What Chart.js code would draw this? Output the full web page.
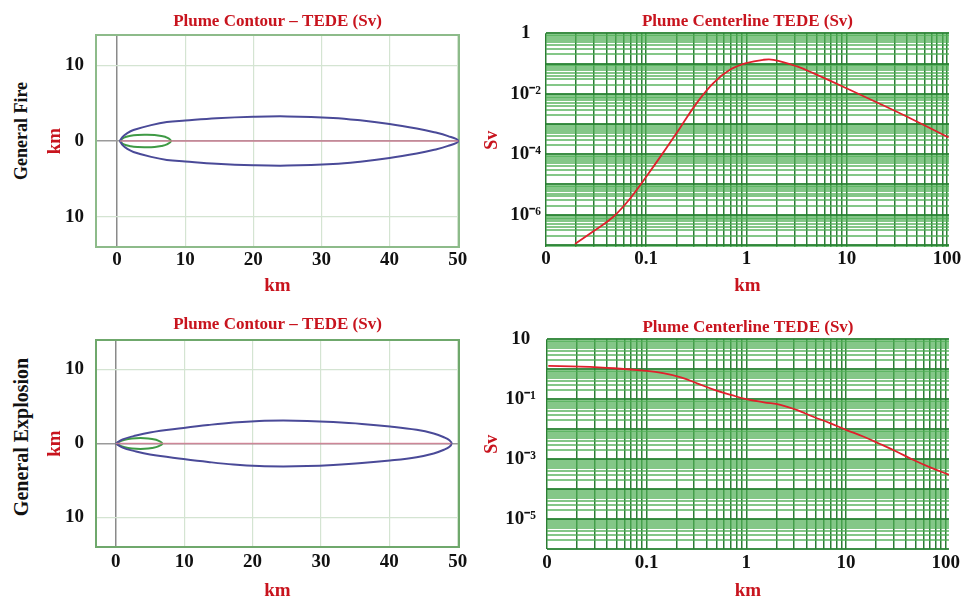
<!DOCTYPE html>
<html>
<head>
<meta charset="utf-8">
<script src="https://cdn.jsdelivr.net/npm/chart.js@4.4.1/dist/chart.umd.min.js"></script>
<style>
    body { margin: 0; background: #fff; width: 963px; height: 602px; position: relative; overflow: hidden; }
    canvas { position: absolute; }
    .rowlabel {
        position: absolute;
        font-family: 'Liberation Serif', serif;
        font-weight: bold;
        color: #111;
        white-space: nowrap;
        transform: translate(-50%, -50%) rotate(-90deg);
    }
</style>
</head>
<body>
<div class="rowlabel" style="left:21px; top:131px; font-size:18px;">General Fire</div>
<div class="rowlabel" style="left:21px; top:437px; font-size:20px;">General Explosion</div>
<canvas id="fireContour" width="480" height="300" style="left:0; top:0;"></canvas>
<canvas id="fireLine" width="483" height="300" style="left:480px; top:0;"></canvas>
<canvas id="explContour" width="480" height="302" style="left:0; top:300px;"></canvas>
<canvas id="explLine" width="483" height="302" style="left:480px; top:300px;"></canvas>
<script>
// contour outlines: distance downwind (km) and half width (km)
const fireOuterX = [0.4, 0.8, 1.5, 2.4, 5, 7.3, 10, 14.6, 20, 25, 31.7, 36, 40, 44, 46.4, 48.6, 50.1];
const fireOuterW = [0, 0.55, 1.05, 1.45, 2.1, 2.5, 2.7, 3.0, 3.2, 3.25, 3.05, 2.7, 2.25, 1.65, 1.2, 0.65, 0];
const fireInnerX = [0.4, 1, 2, 3, 4.3, 5.5, 6.5, 7.3, 7.9];
const fireInnerW = [0, 0.45, 0.7, 0.8, 0.82, 0.78, 0.65, 0.45, 0];

const explOuterX = [0, 1, 2.6, 5, 9.9, 13.5, 17.2, 21, 24.5, 28, 31.8, 36, 40.1, 44, 46.5, 48, 48.8, 49.1];
const explOuterW = [0, 0.55, 1.0, 1.5, 2.1, 2.5, 2.84, 3.05, 3.1, 3.05, 2.9, 2.65, 2.3, 1.85, 1.35, 0.85, 0.45, 0];
const explInnerX = [0, 0.8, 1.8, 3, 4.2, 5.3, 6.2, 6.8];
const explInnerW = [0, 0.35, 0.6, 0.72, 0.72, 0.6, 0.4, 0];

const contourXTicks = [0, 10, 20, 30, 40, 50];
const contourYTicks = [-10, 0, 10];

// centerline dose (Sv) vs distance (km)
const fireDistKm = [0.0195, 0.0297, 0.047, 0.069, 0.1, 0.149, 0.219, 0.32, 0.47, 0.69, 1.0, 1.47, 1.86, 3.2, 4.7, 10.2, 21.9, 46.6, 104];
const fireDoseSv = [1.07e-7, 2.8e-7, 8.5e-7, 3.4e-6, 1.8e-5, 1.17e-4, 7.7e-4, 5e-3, 0.023, 0.063, 0.104, 0.133, 0.133, 0.08, 0.047, 0.0146, 4.5e-3, 1.36e-3, 3.6e-4];

const explDistKm = [0.0103, 0.0215, 0.047, 0.1, 0.146, 0.22, 0.32, 0.47, 0.7, 1.0, 1.5, 2.2, 3.2, 4.7, 6.9, 10, 14.9, 22, 32, 47, 69, 108];
const explDoseSv = [1.29, 1.22, 1.08, 0.88, 0.74, 0.54, 0.34, 0.21, 0.14, 0.10, 0.079, 0.065, 0.044, 0.026, 0.016, 9.5e-3, 5.7e-3, 3.2e-3, 1.8e-3, 9.5e-4, 5.4e-4, 3e-4];

const logXDecades = [0.01, 0.1, 1, 10];
const logXLabels = { '-2': '0', '-1': '0.1', '0': '1', '1': '10', '2': '100' };

const fireYDecades = [1e-8, 1e-7, 1e-6, 1e-5, 1e-4, 1e-3, 1e-2, 1e-1];
const fireYLabels = { '0': '1', '-2': '10⁻²', '-4': '10⁻⁴', '-6': '10⁻⁶' };
const explYDecades = [1e-6, 1e-5, 1e-4, 1e-3, 1e-2, 1e-1, 1];
const explYLabels = { '1': '10', '-1': '10⁻¹', '-3': '10⁻³', '-5': '10⁻⁵' };

const red = '#c8141e';
Chart.defaults.font.family = "'Liberation Serif', 'Times New Roman', serif";
Chart.defaults.font.weight = 'bold';
Chart.defaults.color = '#111';
Chart.defaults.animation = false;

const frame = {
    id: 'frame',
    beforeDatasetsDraw(chart, args, opts) {
        const a = chart.chartArea;
        const c = chart.ctx;
        c.save();
        c.strokeStyle = opts.color;
        c.lineWidth = 2;
        c.strokeRect(a.left, a.top, a.right - a.left, a.bottom - a.top);
        c.restore();
    }
};

function contour(xs, ws) {
    const pts = xs.map((x, i) => ({ x: x, y: ws[i] }));
    for (let i = xs.length - 2; i >= 0; i--) {
        pts.push({ x: xs[i], y: -ws[i] });
    }
    return pts;
}

function decadeOf(v) {
    const e = Math.log10(v);
    const r = Math.round(e);
    return Math.abs(e - r) < 1e-6 ? r : null;
}

function logTicks(decades, min, max) {
    const out = [];
    decades.forEach(d => {
        for (let m = 1; m <= 9; m++) out.push(m * d);
    });
    out.push(decades[decades.length - 1] * 10);
    return out.filter(v => v >= min * 0.9999 && v <= max * 1.0001).map(v => ({ value: v }));
}

function makeContour(id, outerX, outerW, innerX, innerW, lay) {
    const ctx = document.getElementById(id).getContext('2d');
    const tip = outerX[0];
    const end = outerX[outerX.length - 1];
    return new Chart(ctx, {
        type: 'scatter',
        data: {
            datasets: [
                {
                    label: 'centerline',
                    data: [{ x: tip, y: 0 }, { x: end, y: 0 }],
                    showLine: true,
                    borderColor: 'rgba(214,130,150,0.85)',
                    borderWidth: 1.5,
                    pointRadius: 0
                },
                {
                    label: 'outer',
                    data: contour(outerX, outerW),
                    showLine: true,
                    borderColor: '#4a4a98',
                    borderWidth: 2,
                    tension: 0.4,
                    pointRadius: 0
                },
                {
                    label: 'inner',
                    data: contour(innerX, innerW),
                    showLine: true,
                    borderColor: '#3f9a45',
                    borderWidth: 2,
                    tension: 0.4,
                    pointRadius: 0
                }
            ]
        },
        plugins: [frame],
        options: {
            responsive: false,
            layout: { padding: { left: 0, right: lay.right, top: 0, bottom: 0 } },
            plugins: {
                legend: { display: false },
                tooltip: { enabled: false },
                frame: { color: lay.frame },
                title: {
                    display: true,
                    text: 'Plume Contour – TEDE (Sv)',
                    color: red,
                    fullSize: false,
                    font: { size: 17, weight: 'bold' },
                    padding: { top: lay.titleTop, bottom: lay.titleBottom }
                }
            },
            scales: {
                x: {
                    type: 'linear',
                    min: lay.xmin,
                    max: lay.xmax,
                    afterBuildTicks: s => { s.ticks = contourXTicks.map(v => ({ value: v })); },
                    afterFit: s => { s.height = lay.xh; },
                    grid: {
                        drawTicks: false,
                        color: c => c.tick && c.tick.value === 0 ? '#8a8a8a' : '#d4e4d2',
                        lineWidth: c => c.tick && c.tick.value === 0 ? 1.5 : 1.2
                    },
                    border: { display: false },
                    ticks: { autoSkip: false, maxRotation: 0, padding: lay.xtp, font: { size: 19 } },
                    title: { display: true, text: 'km', color: red, font: { size: 19 }, padding: { top: 0, bottom: lay.xtb } }
                },
                y: {
                    type: 'linear',
                    min: -14,
                    max: 14,
                    afterBuildTicks: s => { s.ticks = contourYTicks.map(v => ({ value: v })); },
                    afterFit: s => { s.width = lay.yw; },
                    grid: {
                        drawTicks: false,
                        color: c => c.tick && c.tick.value === 0 ? '#9a9a9a' : '#d4e4d2',
                        lineWidth: c => c.tick && c.tick.value === 0 ? 1.5 : 1.2
                    },
                    border: { display: false },
                    ticks: { autoSkip: false, padding: 12, font: { size: 19 }, callback: v => String(Math.abs(v)) },
                    title: { display: true, text: 'km', color: red, font: { size: 19 }, padding: { top: 44, bottom: 0 } }
                }
            }
        }
    });
}

function makeLine(id, dist, dose, yDecades, yLabels, lay) {
    const ctx = document.getElementById(id).getContext('2d');
    const pts = dist.map((d, i) => ({ x: d, y: dose[i] }));
    return new Chart(ctx, {
        type: 'scatter',
        data: {
            datasets: [{
                label: 'TEDE',
                data: pts,
                showLine: true,
                borderColor: '#e0202c',
                borderWidth: 1.8,
                tension: 0.4,
                pointRadius: 0
            }]
        },
        options: {
            responsive: false,
            layout: { padding: { left: 0, right: 14, top: 0, bottom: 0 } },
            plugins: {
                legend: { display: false },
                tooltip: { enabled: false },
                title: {
                    display: true,
                    text: 'Plume Centerline TEDE (Sv)',
                    color: red,
                    fullSize: false,
                    font: { size: 17, weight: 'bold' },
                    padding: { top: lay.titleTop, bottom: lay.titleBottom }
                }
            },
            scales: {
                x: {
                    type: 'logarithmic',
                    min: 0.01,
                    max: lay.xmax,
                    afterBuildTicks: s => { s.ticks = logTicks(logXDecades, 0.01, lay.xmax); },
                    afterFit: s => { s.height = lay.xh; },
                    grid: {
                        drawTicks: false,
                        color: 'rgba(20,110,30,0.9)',
                        lineWidth: 1.5
                    },
                    border: { display: false },
                    ticks: {
                        autoSkip: false,
                        maxRotation: 0,
                        padding: lay.xtp,
                        font: { size: 19 },
                        callback: v => {
                            const d = decadeOf(v);
                            return d !== null && logXLabels[d] !== undefined ? logXLabels[d] : '';
                        }
                    },
                    title: { display: true, text: 'km', color: red, font: { size: 19 }, padding: { top: 0, bottom: lay.xtb } }
                },
                y: {
                    type: 'logarithmic',
                    min: lay.ymin,
                    max: lay.ymax,
                    afterBuildTicks: s => { s.ticks = logTicks(yDecades, lay.ymin, lay.ymax); },
                    afterFit: s => { s.width = lay.yw; },
                    grid: {
                        drawTicks: false,
                        color: c => c.tick && decadeOf(c.tick.value) !== null ? 'rgba(40,130,50,0.9)' : 'rgba(80,175,85,0.7)',
                        lineWidth: 2
                    },
                    border: { display: false },
                    ticks: {
                        autoSkip: false,
                        crossAlign: 'center',
                        padding: lay.ytp,
                        font: { size: 19 },
                        callback: v => {
                            const d = decadeOf(v);
                            return d !== null && yLabels[d] !== undefined ? yLabels[d] : '';
                        }
                    },
                    title: { display: true, text: 'Sv', color: red, font: { size: 18 }, padding: { top: 2, bottom: 0 } }
                }
            }
        }
    });
}

makeContour('fireContour', fireOuterX, fireOuterW, fireInnerX, fireInnerW,
    { right: 21, titleTop: 11, titleBottom: 3.6, xmin: -3.1, xmax: 50.2, xh: 53, xtp: 2, xtb: 3, yw: 96, frame: '#8dbb8a' });
makeContour('explContour', explOuterX, explOuterW, explInnerX, explInnerW,
    { right: 21, titleTop: 14, titleBottom: 5.6, xmin: -2.9, xmax: 50.2, xh: 55, xtp: 4, xtb: 0, yw: 96, frame: '#6fa86c' });
makeLine('fireLine', fireDistKm, fireDoseSv, fireYDecades, fireYLabels,
    { titleTop: 11.5, titleBottom: 1.4, xmax: 105, xh: 53, xtp: 1, xtb: 3, yw: 66, ytp: 5, ymin: 8.5e-8, ymax: 1 });
makeLine('explLine', explDistKm, explDoseSv, explYDecades, explYLabels,
    { titleTop: 17, titleBottom: 1.9, xmax: 108, xh: 53, xtp: 3, xtb: 0, yw: 67, ytp: 11, ymin: 1e-6, ymax: 10 });
</script>
</body>
</html>
